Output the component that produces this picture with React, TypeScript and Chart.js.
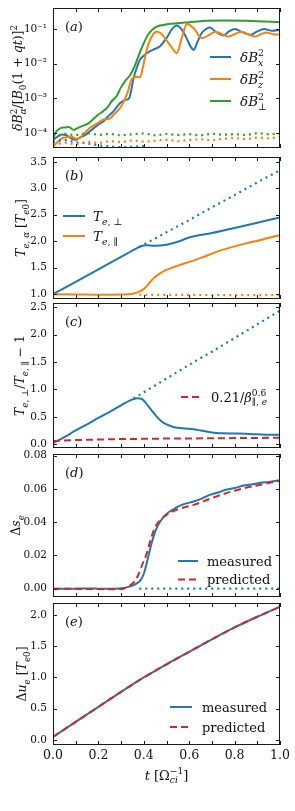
import React, { useEffect, useRef } from 'react';
import { Chart, registerables } from 'chart.js';
Chart.register(...registerables);

// ---------------- data ----------------
const xTicks = [0, 0.2, 0.4, 0.6, 0.8, 1.0];
const xMinorTicks = [0, 0.1, 0.2, 0.3, 0.4, 0.5, 0.6, 0.7, 0.8, 0.9, 1.0];

// (a) magnetic fluctuation energies
const yTicksA = [1e-4, 1e-3, 1e-2, 1e-1];
const tBxA = [0, 0.02, 0.04, 0.06, 0.08, 0.10, 0.12, 0.14, 0.16, 0.18, 0.20, 0.22, 0.24, 0.266, 0.295, 0.317, 0.335, 0.355, 0.37, 0.383, 0.40, 0.413, 0.44, 0.47, 0.50, 0.525, 0.545, 0.565, 0.585, 0.605, 0.62, 0.635, 0.655, 0.675, 0.69, 0.72, 0.75, 0.775, 0.80, 0.835, 0.87, 0.90, 0.93, 0.965, 1.0];
const bxA = [6.3e-5, 7.9e-5, 9.0e-5, 8.5e-5, 7.0e-5, 6.3e-5, 7.5e-5, 8.5e-5, 1.1e-4, 1.38e-4, 1.75e-4, 2.1e-4, 2.9e-4, 4.2e-4, 7.2e-4, 8.9e-4, 1.0e-3, 3.8e-3, 8.0e-3, 1.29e-2, 1.7e-2, 2.0e-2, 2.5e-2, 3.1e-2, 5.4e-2, 0.1, 0.126, 0.1, 0.06, 0.032, 0.025, 0.04, 0.076, 0.1, 0.11, 0.08, 0.065, 0.085, 0.1, 0.08, 0.068, 0.085, 0.1, 0.088, 0.093];
const tBzA = [0, 0.02, 0.04, 0.06, 0.08, 0.10, 0.12, 0.14, 0.16, 0.19, 0.22, 0.25, 0.266, 0.30, 0.33, 0.345, 0.368, 0.383, 0.398, 0.413, 0.435, 0.457, 0.475, 0.493, 0.52, 0.545, 0.567, 0.59, 0.62, 0.655, 0.69, 0.715, 0.745, 0.77, 0.80, 0.83, 0.86, 0.89, 0.915, 0.94, 0.97, 1.0];
const bzA = [4.1e-5, 5.5e-5, 7.0e-5, 7.5e-5, 8.0e-5, 6.8e-5, 7.5e-5, 1.0e-4, 1.38e-4, 1.8e-4, 2.4e-4, 2.6e-4, 3.3e-4, 5.8e-4, 1.55e-3, 3.4e-3, 4.2e-3, 4.0e-3, 9.0e-3, 2.5e-2, 6.0e-2, 8.3e-2, 7.5e-2, 5.4e-2, 3.1e-2, 2.0e-2, 5.4e-2, 0.138, 0.105, 0.054, 0.068, 0.083, 0.07, 0.06, 0.07, 0.083, 0.07, 0.06, 0.07, 0.079, 0.07, 0.068];
const tPerpA = [0, 0.01, 0.03, 0.05, 0.07, 0.09, 0.11, 0.13, 0.15, 0.18, 0.20, 0.22, 0.24, 0.26, 0.28, 0.30, 0.32, 0.34, 0.36, 0.38, 0.40, 0.42, 0.44, 0.46, 0.48, 0.52, 0.58, 0.66, 0.75, 0.88, 1.0];
const perpA = [6.3e-5, 1.0e-4, 1.35e-4, 1.45e-4, 1.5e-4, 1.23e-4, 1.4e-4, 1.6e-4, 1.8e-4, 2.6e-4, 3.4e-4, 4.2e-4, 5.5e-4, 8.5e-4, 1.15e-3, 2.1e-3, 3.3e-3, 4.7e-3, 8.5e-3, 1.9e-2, 3.9e-2, 7.0e-2, 9.8e-2, 0.118, 0.128, 0.14, 0.152, 0.17, 0.174, 0.17, 0.155];
const tNoise = [0, 0.05, 0.1, 0.15, 0.2, 0.25, 0.3, 0.35, 0.4, 0.45, 0.5, 0.55, 0.6, 0.65, 0.7, 0.75, 0.8, 0.85, 0.9, 0.95, 1.0];
const perpNoise = [7.5e-5, 9.6e-5, 8.6e-5, 1.0e-4, 8.8e-5, 9.5e-5, 8.5e-5, 9.2e-5, 9.8e-5, 8.6e-5, 9.4e-5, 8.8e-5, 9.3e-5, 8.5e-5, 9.6e-5, 8.9e-5, 9.3e-5, 8.7e-5, 1.0e-4, 9.1e-5, 9.6e-5];
const bzNoise = [4.5e-5, 5.3e-5, 4.7e-5, 5.6e-5, 5.1e-5, 5.9e-5, 5.4e-5, 6.2e-5, 5.6e-5, 6.0e-5, 6.4e-5, 5.8e-5, 6.3e-5, 6.7e-5, 6.1e-5, 6.8e-5, 7.2e-5, 6.6e-5, 7.4e-5, 7.0e-5, 7.6e-5];
const tBxNoise = [0, 0.05, 0.1, 0.15, 0.2, 0.25, 0.3, 0.35, 0.4, 0.45];
const bxNoise = [5.5e-5, 6.4e-5, 5.4e-5, 5.0e-5, 4.4e-5, 4.1e-5, 3.9e-5, 4.0e-5, 4.2e-5, 3.2e-5];

// (b) temperatures
const yTicksB = [1.0, 1.5, 2.0, 2.5, 3.0, 3.5];
const tPerpB = [0, 0.1, 0.2, 0.3, 0.37, 0.39, 0.41, 0.45, 0.5, 0.55, 0.6, 0.7, 0.8, 0.9, 1.0];
const perpB = [1.0, 1.235, 1.47, 1.705, 1.87, 1.91, 1.925, 1.915, 1.935, 1.99, 2.07, 2.155, 2.25, 2.35, 2.45];
const tParB = [0, 0.1, 0.2, 0.3, 0.35, 0.38, 0.40, 0.42, 0.44, 0.47, 0.50, 0.55, 0.60, 0.66, 0.72, 0.78, 0.85, 0.92, 1.0];
const parB = [1.0, 0.995, 0.99, 0.995, 1.01, 1.05, 1.10, 1.19, 1.29, 1.39, 1.46, 1.54, 1.61, 1.70, 1.80, 1.88, 1.96, 2.03, 2.12];
const tPerpDotB = [0.38, 0.5, 0.6, 0.7, 0.8, 0.9, 1.0];
const perpDotB = [1.89, 2.17, 2.40, 2.64, 2.87, 3.11, 3.34];
const tParDotB = [0.38, 0.7, 1.0];
const parDotB = [0.99, 0.985, 0.985];

// (c) anisotropy
const yTicksC = [0, 0.5, 1.0, 1.5, 2.0, 2.5];
const tAnisC = [0, 0.05, 0.1, 0.15, 0.2, 0.25, 0.3, 0.34, 0.37, 0.39, 0.41, 0.43, 0.46, 0.48, 0.5, 0.53, 0.56, 0.6, 0.65, 0.7, 0.75, 0.8, 0.85, 0.9, 0.95, 1.0];
const anisC = [0.02, 0.13, 0.25, 0.36, 0.48, 0.59, 0.71, 0.80, 0.84, 0.83, 0.75, 0.64, 0.49, 0.41, 0.36, 0.315, 0.295, 0.28, 0.25, 0.215, 0.2, 0.195, 0.19, 0.18, 0.17, 0.17];
const tDotC = [0.355, 0.5, 0.6, 0.7, 0.8, 0.9, 1.0];
const dotC = [0.835, 1.2, 1.45, 1.69, 1.94, 2.19, 2.44];
const tThreshC = [0, 0.1, 0.2, 0.3, 0.4, 0.5, 0.6, 0.7, 0.8, 0.9, 1.0];
const threshC = [0.06, 0.075, 0.085, 0.093, 0.098, 0.102, 0.105, 0.108, 0.111, 0.114, 0.116];

// (d) entropy change
const yTicksD = [0, 0.02, 0.04, 0.06, 0.08];
const tMeasD = [0, 0.1, 0.15, 0.2, 0.25, 0.3, 0.34, 0.36, 0.385, 0.40, 0.414, 0.43, 0.44, 0.455, 0.47, 0.5, 0.546, 0.58, 0.62, 0.66, 0.69, 0.73, 0.766, 0.8, 0.84, 0.88, 0.91, 0.95, 1.0];
const measD = [0, 0, 0.0001, 0.0, -0.0001, 0.0002, 0.0014, 0.0025, 0.005, 0.009, 0.016, 0.025, 0.03, 0.036, 0.04, 0.045, 0.049, 0.051, 0.0524, 0.0545, 0.0564, 0.058, 0.0596, 0.0605, 0.062, 0.0628, 0.0636, 0.0642, 0.0652];
const tPredD = [0, 0.1, 0.2, 0.25, 0.3, 0.34, 0.36, 0.378, 0.395, 0.41, 0.425, 0.436, 0.45, 0.47, 0.5, 0.546, 0.58, 0.62, 0.69, 0.766, 0.84, 0.91, 1.0];
const predD = [0, -0.0001, -0.0002, -0.0003, -0.0002, 0.002, 0.0045, 0.009, 0.015, 0.02, 0.027, 0.032, 0.037, 0.041, 0.0444, 0.0476, 0.049, 0.0504, 0.054, 0.0576, 0.0604, 0.0624, 0.065];
const tDotD = [0.38, 1.0];
const dotD = [0, 0];

// (e) internal energy change
const yTicksE = [0, 0.5, 1.0, 1.5, 2.0];
const tE = [0, 0.1, 0.2, 0.3, 0.4, 0.5, 0.6, 0.7, 0.8, 0.9, 1.0];
const measE = [0.05, 0.29, 0.53, 0.77, 1.0, 1.21, 1.41, 1.61, 1.8, 1.97, 2.13];
const predE = [0.05, 0.29, 0.53, 0.77, 1.0, 1.21, 1.41, 1.61, 1.8, 1.97, 2.13];

const xTitle = 't [Ω^{−1}_{ci}]';

// ---------------- styles ----------------
const BLUE = '#1f77b4';
const ORANGE = '#ff7f0e';
const GREEN = '#2ca02c';
const RED = '#d62728';
const INK = '#111111';
const FONT = '"DejaVu Serif", serif';
const PAD = 13; // vertical canvas margin around each plot area

const SUP: Record<string, string> = { '-': '⁻', '0': '⁰', '1': '¹', '2': '²', '3': '³', '4': '⁴', '5': '⁵', '6': '⁶', '7': '⁷', '8': '⁸', '9': '⁹' };
const logFmt = (v: any) => {
  const e = Math.round(Math.log10(Number(v)));
  return '10' + String(e).split('').map((c) => SUP[c] || c).join('');
};

function pts(xs: number[], ys: number[]) {
  return xs.map((x, i) => ({ x, y: ys[i] }));
}
function solid(label: string, xs: number[], ys: number[], color: string, extra: any = {}) {
  return {
    label,
    data: pts(xs, ys),
    borderColor: color,
    backgroundColor: color,
    borderWidth: 2,
    pointRadius: 0,
    fill: false,
    cubicInterpolationMode: 'monotone',
    ...extra,
  };
}
const DOTTED = { borderDash: [2, 4], cubicInterpolationMode: 'default', tension: 0, borderWidth: 2.2 };
const DASHED = { borderDash: [7, 4] };

// ---------------- rich text (sub/superscripts) ----------------
type Run = { t: string; k: number };
function parseRich(s: string): Run[] {
  const out: Run[] = [];
  let i = 0;
  let buf = '';
  while (i < s.length) {
    const c = s[i];
    if (c === '_' || c === '^') {
      if (buf) { out.push({ t: buf, k: 0 }); buf = ''; }
      let g = '';
      if (s[i + 1] === '{') {
        let j = i + 2;
        while (j < s.length && s[j] !== '}') { g += s[j]; j++; }
        i = j + 1;
      } else { g = s[i + 1]; i += 2; }
      out.push({ t: g, k: c === '_' ? 1 : 2 });
    } else { buf += c; i++; }
  }
  if (buf) out.push({ t: buf, k: 0 });
  return out;
}
function fontFor(ch: string, size: number, math: boolean) {
  const it = math && /[A-Za-zα-ω]/.test(ch);
  return `${it ? 'italic ' : ''}${size}px ${FONT}`;
}
function richLayout(ctx: CanvasRenderingContext2D, s: string, size: number, math: boolean,
  cb?: (ch: string, x: number, dy: number, font: string) => void): number {
  const runs = parseRich(s);
  let x = 0;
  let prevKind = 0;
  let prevStart = 0;
  for (const run of runs) {
    const sz = run.k === 0 ? size : size * 0.7;
    const dy = run.k === 0 ? 0 : run.k === 1 ? size * 0.3 : -size * 0.4;
    const stack = run.k !== 0 && prevKind !== 0 && prevKind !== run.k;
    const start = stack ? prevStart : x;
    let cx = start;
    for (const ch of Array.from(run.t)) {
      const f = fontFor(ch, sz, math);
      ctx.font = f;
      const w = ctx.measureText(ch).width;
      if (cb) cb(ch, cx, dy, f);
      cx += w;
    }
    if (stack) { x = Math.max(x, cx); prevKind = 0; }
    else { if (run.k !== 0) prevStart = start; x = cx; prevKind = run.k; }
  }
  return x;
}
function drawRich(ctx: CanvasRenderingContext2D, s: string, x: number, y: number, size: number,
  align: 'left' | 'center', math: boolean) {
  const w = richLayout(ctx, s, size, math);
  const x0 = align === 'center' ? x - w / 2 : x;
  ctx.textAlign = 'left';
  ctx.textBaseline = 'alphabetic';
  richLayout(ctx, s, size, math, (ch, cx, dy, f) => {
    ctx.font = f;
    ctx.fillText(ch, x0 + cx, y + dy);
  });
}

// ---------------- panels ----------------
interface PanelDef {
  key: string;
  top: number;
  bottom: number;
  yType: 'linear' | 'logarithmic';
  yMin: number;
  yMax: number;
  yTicks: number[];
  yFmt: (v: any) => string;
  datasets: any[];
  label: string;
  yTitle: string;
  yTitleX: number;
  legend: { idx: number[]; x1: number; x2: number; tx: number; ys: number[]; size: number; math: boolean };
  showX: boolean;
}

const fix = (d: number) => (v: any) => Number(v).toFixed(d);

const panels: PanelDef[] = [
  {
    key: 'a', top: 8, bottom: 148, yType: 'logarithmic', yMin: 3.7e-5, yMax: 0.4, yTicks: yTicksA, yFmt: logFmt,
    datasets: [
      solid('δB_{x}^{2}', tBxA, bxA, BLUE),
      solid('δB_{z}^{2}', tBzA, bzA, ORANGE),
      solid('δB_{⊥}^{2}', tPerpA, perpA, GREEN),
      solid('δB_{x}^{2} (initial)', tBxNoise, bxNoise, BLUE, DOTTED),
      solid('δB_{z}^{2} (initial)', tNoise, bzNoise, ORANGE, DOTTED),
      solid('δB_{⊥}^{2} (initial)', tNoise, perpNoise, GREEN, DOTTED),
    ],
    label: '(a)', yTitle: 'δB^{2}_{α}/[B_{0}(1 + qt)]^{2}', yTitleX: 18,
    legend: { idx: [0, 1, 2], x1: 210, x2: 231, tx: 240, ys: [49, 71, 93], size: 13.5, math: true },
    showX: false,
  },
  {
    key: 'b', top: 157, bottom: 299, yType: 'linear', yMin: 0.91, yMax: 3.59, yTicks: yTicksB, yFmt: fix(1),
    datasets: [
      solid('T_{e, ⊥}', tPerpB, perpB, BLUE),
      solid('T_{e, ∥}', tParB, parB, ORANGE),
      solid('T_{e, ⊥} (CGL)', tPerpDotB, perpDotB, BLUE, DOTTED),
      solid('T_{e, ∥} (CGL)', tParDotB, parDotB, ORANGE, DOTTED),
    ],
    label: '(b)', yTitle: 'T_{e, α} [T_{e0}]', yTitleX: 21,
    legend: { idx: [0, 1], x1: 63, x2: 85, tx: 93, ys: [59, 79], size: 13.5, math: true },
    showX: false,
  },
  {
    key: 'c', top: 303, bottom: 448, yType: 'linear', yMin: -0.07, yMax: 2.58, yTicks: yTicksC, yFmt: fix(1),
    datasets: [
      solid('T_{e, ⊥}/T_{e, ∥} − 1', tAnisC, anisC, BLUE),
      solid('T_{e, ⊥}/T_{e, ∥} − 1 (CGL)', tDotC, dotC, BLUE, DOTTED),
      solid('0.21/β_{∥, e}^{0.6}', tThreshC, threshC, RED, DASHED),
    ],
    label: '(c)', yTitle: 'T_{e, ⊥}/T_{e, ∥} − 1', yTitleX: 20,
    legend: { idx: [2], x1: 181, x2: 201, tx: 211, ys: [94], size: 13, math: true },
    showX: false,
  },
  {
    key: 'd', top: 454, bottom: 597, yType: 'linear', yMin: -0.005, yMax: 0.081, yTicks: yTicksD, yFmt: fix(2),
    datasets: [
      solid('measured', tMeasD, measD, BLUE),
      solid('predicted', tPredD, predD, RED, DASHED),
      solid('measured (CGL)', tDotD, dotD, BLUE, DOTTED),
    ],
    label: '(d)', yTitle: 'Δs_{e}', yTitleX: 16,
    legend: { idx: [0, 1], x1: 178, x2: 198, tx: 207, ys: [107, 125.5], size: 13, math: false },
    showX: false,
  },
  {
    key: 'e', top: 603, bottom: 745, yType: 'linear', yMin: -0.08, yMax: 2.19, yTicks: yTicksE, yFmt: fix(1),
    datasets: [
      solid('measured', tE, measE, BLUE),
      solid('predicted', tE, predE, RED, DASHED),
    ],
    label: '(e)', yTitle: 'Δu_{e} [T_{e0}]', yTitleX: 22,
    legend: { idx: [0, 1], x1: 170, x2: 192, tx: 202, ys: [104, 124], size: 13, math: false },
    showX: true,
  },
];

function makeDecor(p: PanelDef) {
  return {
    id: 'decor_' + p.key,
    afterDraw(chart: any) {
      const ctx: CanvasRenderingContext2D = chart.ctx;
      const { left, right, top, bottom } = chart.chartArea;
      const sx = chart.scales.x;
      const sy = chart.scales.y;
      ctx.save();
      ctx.setLineDash([]);
      ctx.strokeStyle = '#1a1a1a';
      ctx.lineWidth = 1;
      ctx.strokeRect(left + 0.5, top + 0.5, right - left - 1, bottom - top - 1);
      ctx.beginPath();
      for (const v of xMinorTicks) {
        const px = Math.round(sx.getPixelForValue(v)) + 0.5;
        ctx.moveTo(px, bottom); ctx.lineTo(px, bottom - 4);
        ctx.moveTo(px, top); ctx.lineTo(px, top + 4);
      }
      for (const t of sy.ticks) {
        const py = Math.round(sy.getPixelForValue(t.value)) + 0.5;
        ctx.moveTo(left, py); ctx.lineTo(left + 4, py);
        ctx.moveTo(right, py); ctx.lineTo(right - 4, py);
      }
      ctx.stroke();

      ctx.fillStyle = INK;
      drawRich(ctx, p.label, left + 12, top + 22.5, 13, 'left', true);

      const lg = p.legend;
      lg.idx.forEach((di, k) => {
        const ds = chart.data.datasets[di];
        const y = top + lg.ys[k];
        ctx.save();
        ctx.strokeStyle = ds.borderColor;
        ctx.lineWidth = 2;
        ctx.setLineDash(ds.borderDash || []);
        ctx.beginPath();
        ctx.moveTo(lg.x1, y);
        ctx.lineTo(lg.x2, y);
        ctx.stroke();
        ctx.restore();
        ctx.fillStyle = INK;
        drawRich(ctx, ds.label, lg.tx, y + lg.size * 0.35, lg.size, 'left', lg.math);
      });

      ctx.save();
      ctx.translate(p.yTitleX, (top + bottom) / 2);
      ctx.rotate(-Math.PI / 2);
      ctx.fillStyle = INK;
      drawRich(ctx, p.yTitle, 0, 12.5 * 0.35, 12.5, 'center', true);
      ctx.restore();

      if (p.showX) {
        ctx.fillStyle = INK;
        drawRich(ctx, xTitle, (left + right) / 2, bottom + 30 + 4.5, 13, 'center', true);
      }
      ctx.restore();
    },
  };
}

function Panel({ p }: { p: PanelDef }) {
  const ref = useRef<HTMLCanvasElement>(null);
  const canvasTop = p.top - PAD;
  const h = p.showX ? 811 - canvasTop : p.bottom + PAD - canvasTop;
  useEffect(() => {
    const n = p.datasets.length;
    const datasets = p.datasets.map((d, i) => ({ ...d, order: n - i }));
    const chart = new Chart(ref.current as HTMLCanvasElement, {
      type: 'line',
      data: { datasets },
      options: {
        responsive: false,
        animation: false,
        devicePixelRatio: 1,
        layout: { padding: { left: 0, right: 15, top: PAD, bottom: p.showX ? 0 : PAD } },
        plugins: { legend: { display: false }, tooltip: { enabled: false }, title: { display: false } },
        elements: { point: { radius: 0 } },
        scales: {
          x: {
            type: 'linear', min: 0, max: 1,
            afterBuildTicks: (s: any) => { s.ticks = xTicks.map((v) => ({ value: v })); },
            ticks: {
              display: p.showX, padding: 3, color: INK, font: { family: FONT, size: 12.5 },
              callback: (v: any) => Number(v).toFixed(1), maxRotation: 0, autoSkip: false,
            },
            grid: { display: false, drawTicks: false },
            border: { display: false },
            afterFit: (s: any) => { s.height = p.showX ? 66 : 0; },
          },
          y: {
            type: p.yType, min: p.yMin, max: p.yMax,
            afterBuildTicks: (s: any) => { s.ticks = p.yTicks.map((v) => ({ value: v })); },
            ticks: { padding: 6, color: INK, font: { family: FONT, size: 10.5 }, callback: p.yFmt, autoSkip: false },
            grid: { display: false, drawTicks: false },
            border: { display: false },
            afterFit: (s: any) => { s.width = 53; },
          },
        },
      } as any,
      plugins: [makeDecor(p)],
    });
    return () => chart.destroy();
  }, []);
  return (
    <canvas
      ref={ref}
      width={295}
      height={h}
      style={{ position: 'absolute', left: 0, top: canvasTop, width: 295, height: h }}
    />
  );
}

export default function App() {
  return (
    <div style={{ position: 'absolute', left: 0, top: 0, width: 295, height: 811, background: '#fff' }}>
      {panels.map((p) => (
        <Panel key={p.key} p={p} />
      ))}
    </div>
  );
}
